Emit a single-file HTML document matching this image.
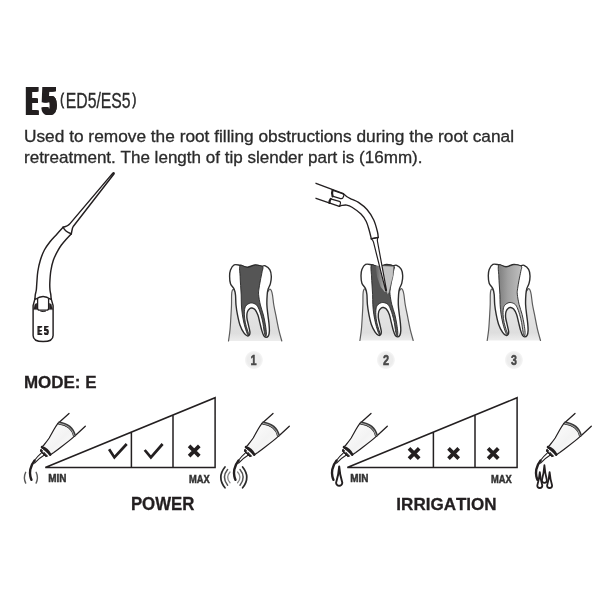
<!DOCTYPE html>
<html lang="en">
<head>
<meta charset="utf-8">
<title>E5 (ED5/ES5)</title>
<style>
html,body{margin:0;padding:0;background:#fff}
body{width:602px;height:600px;overflow:hidden;font-family:"Liberation Sans",sans-serif}
svg{display:block;will-change:transform;filter:blur(0.4px)}
text{font-kerning:none}
</style>
</head>
<body>
<svg width="602" height="600" viewBox="0 0 602 600">
<defs>
<filter id="smear4" x="-30%" y="-10%" width="160%" height="120%" color-interpolation-filters="sRGB"><feOffset in="SourceGraphic" dx="-2" result="o0"/><feOffset in="SourceGraphic" dx="-1.5" result="o1"/><feOffset in="SourceGraphic" dx="-1" result="o2"/><feOffset in="SourceGraphic" dx="-0.5" result="o3"/><feOffset in="SourceGraphic" dx="0" result="o4"/><feOffset in="SourceGraphic" dx="0.5" result="o5"/><feOffset in="SourceGraphic" dx="1" result="o6"/><feOffset in="SourceGraphic" dx="1.5" result="o7"/><feOffset in="SourceGraphic" dx="2" result="o8"/><feMerge><feMergeNode in="o0"/><feMergeNode in="o1"/><feMergeNode in="o2"/><feMergeNode in="o3"/><feMergeNode in="o4"/><feMergeNode in="o5"/><feMergeNode in="o6"/><feMergeNode in="o7"/><feMergeNode in="o8"/></feMerge></filter>
<filter id="smear1" x="-30%" y="-10%" width="160%" height="120%" color-interpolation-filters="sRGB"><feOffset in="SourceGraphic" dx="-0.5" result="o0"/><feOffset in="SourceGraphic" dx="0" result="o1"/><feOffset in="SourceGraphic" dx="0.5" result="o2"/><feMerge><feMergeNode in="o0"/><feMergeNode in="o1"/><feMergeNode in="o2"/></feMerge></filter>
<linearGradient id="gumg" x1="0" y1="0" x2="0" y2="1"><stop offset="0" stop-color="#e9e9e9"/><stop offset="0.85" stop-color="#dedede"/><stop offset="1" stop-color="#ededed"/></linearGradient>
<linearGradient id="coneg" x1="0" y1="0" x2="1" y2="1"><stop offset="0" stop-color="#fff"/><stop offset="0.55" stop-color="#f3f3f3"/><stop offset="1" stop-color="#fff"/></linearGradient>
<radialGradient id="numg"><stop offset="0" stop-color="#ededed"/><stop offset="0.7" stop-color="#ececec"/><stop offset="0.9" stop-color="#f4f4f4"/><stop offset="1" stop-color="#fff"/></radialGradient>
<linearGradient id="p3g" x1="0" y1="0" x2="1" y2="0"><stop offset="0" stop-color="#7d7d7d"/><stop offset="0.35" stop-color="#a0a0a0"/><stop offset="1" stop-color="#c8c8c8"/></linearGradient>
<linearGradient id="midg" x1="0" y1="0" x2="1" y2="0"><stop offset="0" stop-color="#606060"/><stop offset="0.5" stop-color="#8e8e8e"/><stop offset="1" stop-color="#c2c2c2"/></linearGradient>

<path id="gumfill" d="M-1.1 76.1C-0.85 74.25 -0.02 69.35 0.4 65C0.82 60.65 1.15 54.15 1.4 50C1.65 45.85 1.8 43.42 1.9 40.1C2 36.78 1.88 32.5 2 30.1C2.12 27.7 2.27 26.63 2.6 25.7C2.93 24.77 3.57 24.43 4 24.5C4.43 24.57 5 25.83 5.2 26.1L38.6 26.1C38.87 25.8 39.68 24.37 40.2 24.3C40.72 24.23 41.25 24.73 41.7 25.7C42.15 26.67 42.48 27.7 42.9 30.1C43.32 32.5 43.65 36.78 44.2 40.1C44.75 43.42 45.37 45.85 46.2 50C47.03 54.15 48.2 60.65 49.2 65C50.2 69.35 51.7 74.25 52.2 76.1Z"/>
<path id="gl" d="M-1.1 76.1C-0.85 74.25 -0.02 69.35 0.4 65C0.82 60.65 1.15 54.15 1.4 50C1.65 45.85 1.8 43.42 1.9 40.1C2 36.78 1.88 32.5 2 30.1C2.12 27.7 2.27 26.63 2.6 25.7C2.93 24.77 3.57 24.43 4 24.5C4.43 24.57 5 25.83 5.2 26.1"/>
<path id="gr" d="M52.2 76.1C51.7 74.25 50.2 69.35 49.2 65C48.2 60.65 47.03 54.15 46.2 50C45.37 45.85 44.75 43.42 44.2 40.1C43.65 36.78 43.32 32.5 42.9 30.1C42.48 27.7 42.15 26.67 41.7 25.7C41.25 24.73 40.72 24.23 40.2 24.3C39.68 24.37 38.87 25.8 38.6 26.1"/>
<path id="tooth" d="M4.6 0C6.2 -0.77 8.28 0.02 10.5 0.4C12.72 0.78 15.38 2.37 17.9 2.3C20.43 2.23 23.28 0.16 25.65 0C28.02 -0.16 30.42 1.2 32.1 1.35C33.77 1.5 34.33 0.29 35.7 0.9C37.07 1.51 39.3 3.25 40.3 5C41.3 6.75 41.62 9.1 41.7 11.4C41.78 13.7 41.33 16.65 40.8 18.8C40.27 20.95 39.03 22.47 38.5 24.3C37.97 26.13 37.8 27.17 37.6 29.8C37.4 32.43 37.18 36.73 37.3 40.1C37.42 43.47 37.97 47.02 38.3 50C38.63 52.98 39.05 55.33 39.3 58C39.55 60.67 39.88 63.83 39.8 66C39.72 68.17 39.38 69.92 38.8 71C38.22 72.08 37.05 72.5 36.3 72.5C35.55 72.5 34.97 72.08 34.3 71C33.63 69.92 32.97 68.17 32.3 66C31.63 63.83 30.97 60.67 30.3 58C29.63 55.33 29.13 52.23 28.3 50C27.47 47.77 26.3 45.75 25.3 44.6C24.3 43.45 23.13 43.27 22.3 43.1C21.47 42.93 21.05 42.95 20.3 43.6C19.55 44.25 18.3 45.43 17.8 47C17.3 48.57 17.13 50.83 17.3 53C17.47 55.17 18.3 57.67 18.8 60C19.3 62.33 20.13 65.33 20.3 67C20.47 68.67 20.22 69.33 19.8 70C19.38 70.67 18.72 71.33 17.8 71C16.88 70.67 15.54 69.83 14.3 68C13.06 66.17 11.42 63 10.35 60C9.28 57 8.56 53.32 7.9 50C7.24 46.68 6.73 43.42 6.4 40.1C6.07 36.78 6.2 32.73 5.9 30.1C5.6 27.47 5.43 26.18 4.6 24.3C3.77 22.42 1.67 20.95 0.9 18.8C0.13 16.65 0 13.7 0 11.4C0 9.1 0.13 6.9 0.9 5C1.67 3.1 3 0.77 4.6 0Z"/>
<path id="pulp" d="M10.5 0.7C11.73 -0.77 15.38 2.67 17.9 2.6C20.43 2.53 23.13 0.43 25.65 0.3C28.17 0.17 31.86 0.71 33 1.8C34.14 2.89 32.88 4.48 32.5 6.85C32.12 9.22 31.23 13.09 30.7 16C30.17 18.91 29.58 22 29.3 24.3C29.02 26.6 28.75 27.17 29 29.8C29.25 32.43 30 36.73 30.8 40.1C31.6 43.47 32.97 46.68 33.8 50C34.63 53.32 35.3 57 35.8 60C36.3 63 36.72 66.08 36.8 68C36.88 69.92 36.55 71.17 36.3 71.5C36.05 71.83 35.63 71.08 35.3 70C34.97 68.92 34.63 67 34.3 65C33.97 63 33.8 60.5 33.3 58C32.8 55.5 32.05 52.48 31.3 50C30.55 47.52 29.63 44.83 28.8 43.1C27.97 41.37 27.47 40.43 26.3 39.6C25.13 38.77 23.22 38.1 21.8 38.1C20.38 38.1 18.88 38.77 17.8 39.6C16.72 40.43 15.8 41.37 15.3 43.1C14.8 44.83 14.72 47.52 14.8 50C14.88 52.48 15.3 55.5 15.8 58C16.3 60.5 17.22 63.08 17.8 65C18.38 66.92 19.13 68.58 19.3 69.5C19.47 70.42 19.13 70.75 18.8 70.5C18.47 70.25 17.97 69.75 17.3 68C16.63 66.25 15.55 63 14.8 60C14.05 57 13.3 53.32 12.8 50C12.3 46.68 12 43.42 11.8 40.1C11.6 36.78 11.73 33.35 11.6 30.1C11.47 26.85 11.18 23.72 11 20.6C10.82 17.48 10.58 14.72 10.5 11.4C10.42 8.08 9.27 2.17 10.5 0.7Z"/>

<g id="hand" fill="none" stroke="#231f20" stroke-width="1.3" stroke-linecap="round" stroke-linejoin="round">
<path d="M69 413.5L57.9 423.4M85.3 426.3L74.25 436.4"/>
<path d="M57.9 423.4Q55.6 426.6 53.8 429.8L49.2 438Q46.4 442 43.9 445L41.6 447.3L50.1 454.9L53.8 452.6Q57.4 450 60.8 447.3L69 440.9Q72 438.6 74.25 436.4Q72.5 426 57.9 423.4Z" fill="url(#coneg)" stroke-width="1.2"/>
<path d="M58.3 423Q72 424.2 74.6 436.2" stroke="#3a3a3a" stroke-width="3" stroke-linecap="butt"/>
<path d="M58.8 423.3Q71.4 424.8 74.2 435.8" stroke="#a8a8a8" stroke-width="1" stroke-linecap="butt"/>
<path d="M42 447.2Q47.4 449 50.2 454.6" stroke-width="2.6"/>
<path d="M41.2 449.4L47.6 456.2L45.6 456.6L40.6 451.4Z" fill="#231f20" stroke-width="1"/>
<circle cx="43.3" cy="451.8" r="0.8" fill="#fff" stroke="none"/>
</g>
</defs>
<rect width="602" height="600" fill="#fff"/>

<!-- heading -->
<g filter="url(#smear4)"><text font-family="'Liberation Sans',sans-serif" font-weight="bold" fill="#231f20"><tspan x="26.64" y="114.6" font-size="40.41" textLength="10.58" lengthAdjust="spacingAndGlyphs">E</tspan><tspan x="42.48" y="114.8" font-size="40.7" textLength="13.08" lengthAdjust="spacingAndGlyphs">5</tspan></text></g>
<text font-family="'Liberation Sans',sans-serif" font-weight="normal" fill="#2b2b2b" stroke="#2b2b2b" stroke-width="0.3"><tspan x="60.22" y="104.9" font-size="16.55" textLength="3.64" lengthAdjust="spacingAndGlyphs" stroke-width="0.9">(</tspan><tspan x="65.7" y="107.9" font-size="21.22" textLength="64.96" lengthAdjust="spacingAndGlyphs">ED5/ES5</tspan><tspan x="132.44" y="104.9" font-size="16.55" textLength="3.64" lengthAdjust="spacingAndGlyphs" stroke-width="0.9">)</tspan></text>
<text x="24" y="141.6" font-family="'Liberation Sans',sans-serif" font-size="16.4" textLength="490" lengthAdjust="spacingAndGlyphs" fill="#2b2b2b" stroke="#2b2b2b" stroke-width="0.3">Used to remove the root filling obstructions during the root canal</text>
<text x="24" y="162.6" font-family="'Liberation Sans',sans-serif" font-size="16.4" textLength="398.5" lengthAdjust="spacingAndGlyphs" fill="#2b2b2b" stroke="#2b2b2b" stroke-width="0.3">retreatment. The length of tip slender part is (16mm).</text>

<!-- tip drawing -->
<g fill="none" stroke="#231f20" stroke-width="1.45" stroke-linecap="round" stroke-linejoin="round">
<path d="M63.1 227.3C66.4 226.4 68.6 225.4 70 223.6L113 172.9C113.4 172.3 114.5 173.1 114.1 173.8L73.4 226.2C72.1 228 72 230.6 71.3 233.75" fill="#fff"/>
<path d="M63.1 227.3C62.02 228.48 58.78 232 56.6 234.4C54.42 236.8 52.03 239.1 50 241.7C47.97 244.3 46 246.95 44.4 250C42.8 253.05 41.5 256.42 40.4 260C39.3 263.58 38.4 267.62 37.8 271.5C37.2 275.38 37.05 280.22 36.8 283.3C36.55 286.38 36.55 288.12 36.3 290C36.05 291.88 35.52 293.17 35.3 294.6C35.08 296.03 35.05 297.93 35 298.6"/>
<path d="M71.3 233.75C70.42 234.69 67.65 237.53 66 239.4C64.35 241.28 62.73 243.17 61.4 245C60.07 246.83 59.33 247.9 58 250.4C56.67 252.9 54.6 256.57 53.4 260C52.2 263.43 51.4 267.12 50.8 271C50.2 274.88 49.93 280.13 49.8 283.3C49.67 286.47 49.83 288.12 50 290C50.17 291.88 50.62 293.17 50.8 294.6C50.98 296.03 51.05 297.93 51.1 298.6"/>
<path d="M63.1 227.3Q65.4 232 71.3 233.75"/>
<path d="M35 298.6L33.1 305.6V335.4C33.1 339.6 37 341.5 43.1 341.5C49.2 341.5 53.1 339.6 53.1 335.4V305.6L51.1 298.6"/>
<path d="M35.6 299.2Q43.1 293.8 50.5 299.2" stroke-width="1.3"/>
<path d="M37.6 299V308.2Q37.6 310.2 39.6 310.2H46.6Q48.6 310.2 48.6 308.2V299" stroke-width="1.3"/>
<path d="M33.6 309.2L35 304.2L36.9 303.4V309.2ZM52.6 309.2L51.2 304.2L49.3 303.4V309.2Z" fill="#231f20" stroke-width="0.5"/>
<path d="M40.6 311.2Q43.1 312.2 45.6 311.2" stroke-width="1"/>
</g>
<g filter="url(#smear1)"><text font-family="'Liberation Sans',sans-serif" font-weight="bold" fill="#231f20"><tspan x="37.17" y="335.1" font-size="12.94" textLength="4.28" lengthAdjust="spacingAndGlyphs">E</tspan><tspan x="43.76" y="335.1" font-size="12.94" textLength="4.36" lengthAdjust="spacingAndGlyphs">5</tspan></text></g>


<!-- teeth -->
<g transform="translate(229.6 264.9)">
<use href="#gumfill" fill="url(#gumg)"/>
<use href="#gl" fill="none" stroke="#5c5c5c" stroke-width="1.2" stroke-linecap="round"/>
<use href="#gr" fill="none" stroke="#5c5c5c" stroke-width="1.2" stroke-linecap="round"/>
<use href="#tooth" fill="#fff" stroke="#2e2e2e" stroke-width="1.4" stroke-linejoin="round"/>
<use href="#pulp" fill="#555" stroke="#262626" stroke-width="0.9" stroke-linejoin="round"/>
</g>
<g transform="translate(361 264.4)">
<use href="#gumfill" fill="url(#gumg)"/>
<use href="#gl" fill="none" stroke="#5c5c5c" stroke-width="1.2" stroke-linecap="round"/>
<use href="#gr" fill="none" stroke="#5c5c5c" stroke-width="1.2" stroke-linecap="round"/>
<use href="#tooth" fill="#fff" stroke="#2e2e2e" stroke-width="1.4" stroke-linejoin="round"/>
<use href="#pulp" fill="#555" stroke="#262626" stroke-width="0.9" stroke-linejoin="round"/>
<path d="M21.33 1.27L32.75 1.85L32.17 11.43L30 19.77L28 28.1L26.5 30.27L25.5 27.27L23.17 18.1L20.83 7.27L19.83 1.27Z" fill="#c4c4c4" stroke="#444" stroke-width="0.5" stroke-linejoin="round"/>
<path d="M14.42 1.6L19.83 1.27L23.17 18.1L25.5 27.27L23.83 27.68L19.67 22.68L16.08 12.27Z" fill="url(#midg)"/></g>
<g fill="none" stroke="#231f20" stroke-width="1.35" stroke-linecap="round" stroke-linejoin="round">
<path d="M316 183.3L343.4 193.7M316 198.3L339.3 206.3"/>
<path d="M371.5 238.8Q373 240.4 373.5 242.2L385.6 290.4Q386.1 291.6 386.5 290.3L377.4 241Q377.2 239.2 378 237.5Z" fill="#fff" stroke-width="1.2"/>
<path d="M343.4 193.7C344 194.22 345.57 195.87 347 196.8C348.43 197.73 350.08 198.37 352 199.3C353.92 200.23 356 200.7 358.5 202.4C361 204.1 364.46 206.57 367 209.5C369.54 212.43 372 216.25 373.75 220C375.5 223.75 376.76 229.12 377.5 232C378.24 234.88 378.08 236.42 378.2 237.3"/>
<path d="M339.3 206.3C339.75 206.15 340.77 205.6 342 205.4C343.23 205.2 345.03 204.8 346.7 205.1C348.37 205.4 349.62 205.72 352 207.2C354.38 208.68 358.62 211.62 361 214C363.38 216.38 364.88 218.75 366.25 221.5C367.62 224.25 368.41 227.62 369.25 230.5C370.09 233.38 370.96 237.38 371.3 238.75"/>
<path d="M371.3 238.75L378.2 237.3"/>
<path d="M332.4 190.2L342.6 193.6Q344.2 194.4 343.7 196L343 197.6Q342.2 199 340.6 198.6L333.2 196.4" stroke-width="1.2"/>
<path d="M330.6 198.8L339.4 201.4Q340.9 202 340.5 203.4L339.6 206.1" stroke-width="1.2"/>
<path d="M332.6 190.2Q331.4 193.4 332.6 196.4M330.7 198.9Q329.2 200.8 329.6 203" stroke-width="2.2"/>
</g>
<g transform="translate(488.3 264.4)">
<use href="#gumfill" fill="url(#gumg)"/>
<use href="#gl" fill="none" stroke="#5c5c5c" stroke-width="1.2" stroke-linecap="round"/>
<use href="#gr" fill="none" stroke="#5c5c5c" stroke-width="1.2" stroke-linecap="round"/>
<use href="#tooth" fill="#fff" stroke="#2e2e2e" stroke-width="1.4" stroke-linejoin="round"/>
<use href="#pulp" fill="url(#p3g)" stroke="#262626" stroke-width="0.9" stroke-linejoin="round"/>
</g>
<circle cx="253.9" cy="360" r="9.4" fill="url(#numg)"/>
<text transform="translate(250.51 364.8) scale(0.7855 1)" font-family="'Liberation Sans',sans-serif" font-weight="bold" font-size="13.95" fill="#4a4a4a" stroke="#4a4a4a" stroke-width="0.5">1</text>
<circle cx="385.9" cy="360" r="9.4" fill="url(#numg)"/>
<text transform="translate(382.92 364.8) scale(0.7889 1)" font-family="'Liberation Sans',sans-serif" font-weight="bold" font-size="13.95" fill="#4a4a4a" stroke="#4a4a4a" stroke-width="0.5">2</text>
<circle cx="513.9" cy="360" r="9.4" fill="url(#numg)"/>
<text transform="translate(511.06 364.8) scale(0.7641 1)" font-family="'Liberation Sans',sans-serif" font-weight="bold" font-size="13.95" fill="#4a4a4a" stroke="#4a4a4a" stroke-width="0.5">3</text>

<!-- mode -->
<text transform="translate(23.96 387.8) scale(1.0153 1)" font-family="'Liberation Sans',sans-serif" font-weight="bold" font-size="16.72" fill="#231f20" stroke="#231f20" stroke-width="0.3">MODE: E</text>

<!-- POWER -->
<g transform="translate(0 0)"><use href="#hand"/><path d="M42 452.4Q37.4 456.4 34 461" fill="none" stroke="#231f20" stroke-width="1.1" stroke-linecap="round"/>
<path d="M44.4 455Q38.6 458.4 34.6 463.2" fill="none" stroke="#231f20" stroke-width="1.1" stroke-linecap="round"/>
<path d="M34.6 460.6Q31.4 464.6 30.3 469.4Q29.6 473.4 30.4 476.6Q30.8 478.6 31.5 479.8" fill="none" stroke="#231f20" stroke-width="2.4" stroke-linecap="round"/></g>
<path d="M25.7 472.3Q23.1 477.7 25.7 483.1M36.1 472.3Q38.7 477.7 36.1 483.1" fill="none" stroke="#5a5a5a" stroke-width="1.4" stroke-linecap="round"/>
<path d="M45.3 467.5L215.1 397.7V467.5Z M131.4 467.5V432.11 M173 467.5V415.01" fill="none" stroke="#231f20" stroke-width="1.5" stroke-linejoin="miter"/>
<path d="M109.1 449.3L114.4 457.4L126.7 444" fill="none" stroke="#231f20" stroke-width="2.7" stroke-linejoin="miter"/>
<path d="M144.7 450L150.9 457.4L162.6 444" fill="none" stroke="#231f20" stroke-width="2.7" stroke-linejoin="miter"/>
<path d="M189.1 445.9L199.3 456.1M199.3 445.9L189.1 456.1" fill="none" stroke="#231f20" stroke-width="3.7"/>
<text transform="translate(48.13 482.4) scale(0.9126 1)" font-family="'Liberation Sans',sans-serif" font-weight="bold" font-size="10.9" fill="#333" stroke="#333" stroke-width="0.5">MIN</text>
<text transform="translate(188.98 482.8) scale(0.8435 1)" font-family="'Liberation Sans',sans-serif" font-weight="bold" font-size="11.05" fill="#333" stroke="#333" stroke-width="0.5">MAX</text>
<g transform="translate(204 0)"><use href="#hand"/><path d="M42 452.4Q37.4 456.4 34 461" fill="none" stroke="#231f20" stroke-width="1.1" stroke-linecap="round"/>
<path d="M44.4 455Q38.6 458.4 34.6 463.2" fill="none" stroke="#231f20" stroke-width="1.1" stroke-linecap="round"/>
<path d="M34.6 460.6Q31.4 464.6 30.3 469.4Q29.6 473.4 30.4 476.6Q30.8 478.6 31.5 479.8" fill="none" stroke="#231f20" stroke-width="2.4" stroke-linecap="round"/></g>
<path d="M230 472Q225.2 477.4 230 482.8M237.6 472Q242.4 477.4 237.6 482.8" fill="none" stroke="#8a8a8a" stroke-width="1.3" stroke-linecap="round"/><path d="M227.6 469.6Q221.2 477.4 227.6 485.2M240 469.6Q246.4 477.4 240 485.2" fill="none" stroke="#555" stroke-width="1.5" stroke-linecap="round"/><path d="M225 467Q216.6 477.4 225 487.8M242.6 467Q251 477.4 242.6 487.8" fill="none" stroke="#2a2a2a" stroke-width="1.7" stroke-linecap="round"/>
<text transform="translate(130.88 510) scale(0.9632 1)" font-family="'Liberation Sans',sans-serif" font-weight="bold" font-size="17.44" fill="#231f20" stroke="#231f20" stroke-width="0.3">POWER</text>

<!-- IRRIGATION -->
<g transform="translate(302 0)"><use href="#hand"/><path d="M42 452.4Q37.4 456.4 34 461" fill="none" stroke="#231f20" stroke-width="1.1" stroke-linecap="round"/>
<path d="M44.4 455Q38.6 458.4 34.6 463.2" fill="none" stroke="#231f20" stroke-width="1.1" stroke-linecap="round"/>
<path d="M34.6 460.6Q31.4 464.6 30.3 469.4Q29.6 473.4 30.4 476.6Q30.8 478.6 31.5 479.8" fill="none" stroke="#231f20" stroke-width="2.4" stroke-linecap="round"/></g>
<path d="M339.2 466.4Q339.8 474.85 342.3 482.7A3.1 3.1 0 1 1 336.1 482.7Q338.6 474.85 339.2 466.4Z" fill="#fff" stroke="#231f20" stroke-width="1.9" stroke-linejoin="round"/>
<path d="M347.3 467.5L517.1 397.7V467.5Z M433.4 467.5V432.11 M475 467.5V415.01" fill="none" stroke="#231f20" stroke-width="1.5" stroke-linejoin="miter"/>
<path d="M409 448.4L419.2 458.6M419.2 448.4L409 458.6" fill="none" stroke="#231f20" stroke-width="3.7"/>
<path d="M448.5 448.4L458.7 458.6M458.7 448.4L448.5 458.6" fill="none" stroke="#231f20" stroke-width="3.7"/>
<path d="M488.1 448.4L498.3 458.6M498.3 448.4L488.1 458.6" fill="none" stroke="#231f20" stroke-width="3.7"/>
<text transform="translate(350.13 482.4) scale(0.9126 1)" font-family="'Liberation Sans',sans-serif" font-weight="bold" font-size="10.9" fill="#333" stroke="#333" stroke-width="0.5">MIN</text>
<text transform="translate(490.98 482.8) scale(0.8435 1)" font-family="'Liberation Sans',sans-serif" font-weight="bold" font-size="11.05" fill="#333" stroke="#333" stroke-width="0.5">MAX</text>
<g transform="translate(506 0)"><use href="#hand"/><path d="M42 452.4Q37.4 456.4 34 461" fill="none" stroke="#231f20" stroke-width="1.1" stroke-linecap="round"/>
<path d="M44.4 455Q38.6 458.4 34.6 463.2" fill="none" stroke="#231f20" stroke-width="1.1" stroke-linecap="round"/>
<path d="M34.6 460.6Q31.4 464.6 30.3 469.4Q29.6 473.4 30.4 476.6Q30.8 478.6 31.5 479.8" fill="none" stroke="#231f20" stroke-width="2.4" stroke-linecap="round"/></g>
<path d="M539.8 472.2Q540.4 479.15 542.3 485.5A2.5 2.5 0 1 1 537.3 485.5Q539.2 479.15 539.8 472.2Z" fill="#fff" stroke="#231f20" stroke-width="1.8" stroke-linejoin="round"/>
<path d="M549.6 472.2Q550.2 479.15 552.1 485.5A2.5 2.5 0 1 1 547.1 485.5Q549 479.15 549.6 472.2Z" fill="#fff" stroke="#231f20" stroke-width="1.8" stroke-linejoin="round"/>
<path d="M544.4 465.2Q545 473.05 546.9 480.3A2.5 2.5 0 1 1 541.9 480.3Q543.8 473.05 544.4 465.2Z" fill="#fff" stroke="#231f20" stroke-width="1.8" stroke-linejoin="round"/>
<text transform="translate(396.36 510.3) scale(0.9856 1)" font-family="'Liberation Sans',sans-serif" font-weight="bold" font-size="17.3" fill="#231f20" stroke="#231f20" stroke-width="0.3">IRRIGATION</text>
</svg>
</body>
</html>
